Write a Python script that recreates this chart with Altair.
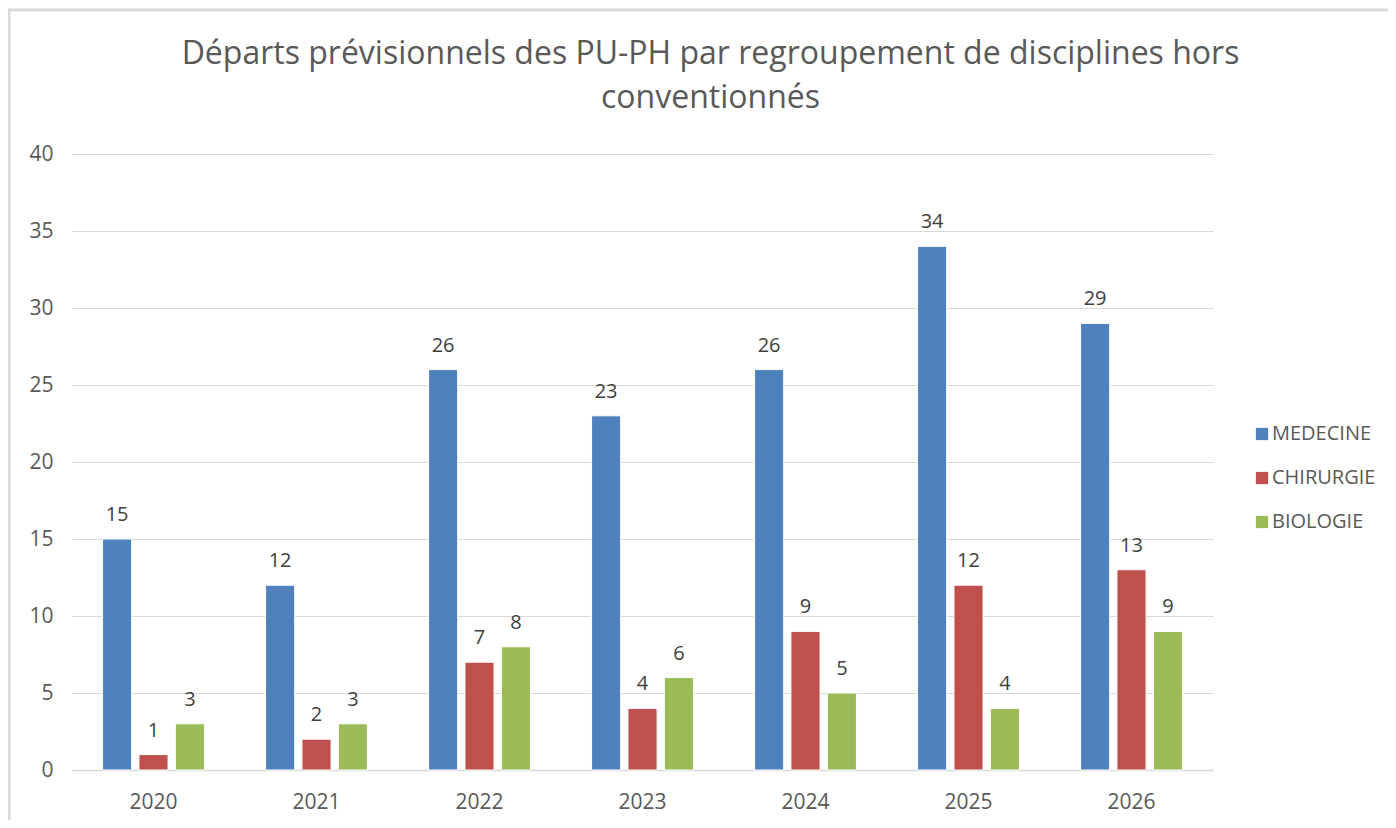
import altair as alt
import pandas as pd

years = ["2020", "2021", "2022", "2023", "2024", "2025", "2026"]
series = ["MEDECINE", "CHIRURGIE", "BIOLOGIE"]
medecine = [15, 12, 26, 23, 26, 34, 29]
chirurgie = [1, 2, 7, 4, 9, 12, 13]
biologie = [3, 3, 8, 6, 5, 4, 9]
colors = ["#4F81BD", "#C0504D", "#9BBB59"]

rows = []
for name, vals in zip(series, [medecine, chirurgie, biologie]):
    for y, v in zip(years, vals):
        rows.append({"annee": y, "groupe": name, "valeur": v})
df = pd.DataFrame(rows)

FONT = "Open Sans"

x = alt.X("annee:N", sort=years, title=None,
          scale=alt.Scale(paddingInner=0.375, paddingOuter=0.1875),
          axis=alt.Axis(labelAngle=0, labelFont=FONT, labelFontSize=21,
                        labelColor="#595959", labelPadding=21, ticks=False,
                        domainColor="#d9d9d9", domainWidth=1.5))
xo = alt.XOffset("groupe:N", sort=series,
                 scale=alt.Scale(paddingInner=0.2, paddingOuter=0))
y = alt.Y("valeur:Q", title=None,
          scale=alt.Scale(domain=[0, 40], nice=False),
          axis=alt.Axis(values=[0, 5, 10, 15, 20, 25, 30, 35, 40],
                        labelFont=FONT, labelFontSize=21, labelColor="#595959",
                        labelPadding=19, ticks=False, domain=False,
                        gridColor="#d9d9d9", gridWidth=1.2))

color = alt.Color("groupe:N", sort=series,
                  scale=alt.Scale(domain=series, range=colors),
                  legend=alt.Legend(title=None, orient="none", legendX=1180,
                                    legendY=270, symbolType="square",
                                    symbolSize=150, symbolStrokeWidth=0,
                                    labelFont=FONT, labelFontSize=20,
                                    labelColor="#595959", labelOffset=0,
                                    rowPadding=24, padding=0))

base = alt.Chart(df)
bars = base.mark_bar(stroke="white", strokeWidth=1).encode(
    x=x, xOffset=xo, y=y, color=color)
labels = base.mark_text(font=FONT, fontSize=20, color="#404040",
                        baseline="alphabetic", dy=-18).encode(
    x=x, xOffset=xo, y=y, text="valeur:Q")

border_top = alt.Chart(pd.DataFrame({"a": [0]})).mark_rule(
    color="#d9d9d9", strokeWidth=3, clip=False).encode(
    x=alt.value(-64), x2=alt.value(1316), y=alt.value(-144))
border_left = alt.Chart(pd.DataFrame({"a": [0]})).mark_rule(
    color="#d9d9d9", strokeWidth=3, clip=False).encode(
    x=alt.value(-63), y=alt.value(-144), y2=alt.value(666))

chart = alt.layer(bars, labels, border_top, border_left).properties(
    width=1141, height=616,
    title=alt.TitleParams(
        text=["Départs prévisionnels des PU-PH par regroupement de disciplines hors",
              "conventionnés"],
        font=FONT, fontSize=32, fontWeight="normal", color="#595959",
        anchor="middle", dx=68, offset=-106, lineHeight=44),
    autosize=alt.AutoSizeParams(type="none"),
    padding={"left": 64, "top": 146, "right": 175, "bottom": 50},
).configure_view(stroke=None)

chart.save("out.html", embed_options={"renderer": "svg", "actions": False})
